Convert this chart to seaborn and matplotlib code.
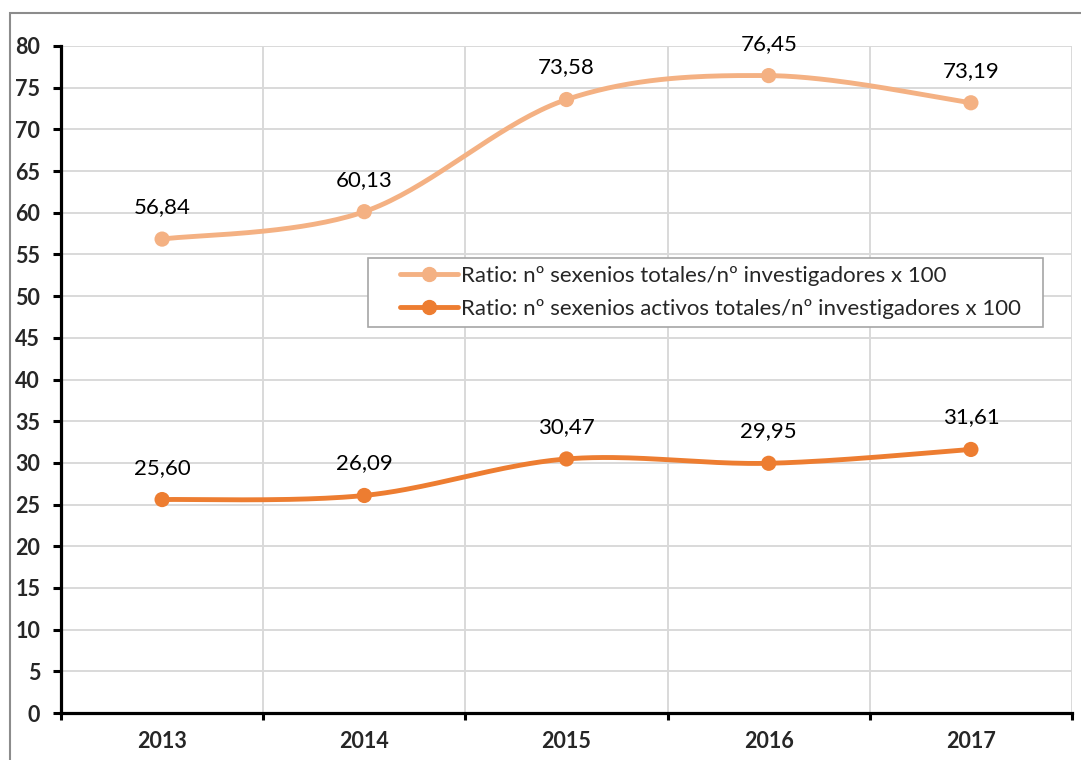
import numpy as np
import pandas as pd
import matplotlib
matplotlib.use("Agg")
import matplotlib.pyplot as plt
import seaborn as sns
from matplotlib.lines import Line2D
from matplotlib.patches import Rectangle
from matplotlib.ticker import FixedLocator

# ---- data ----
years = ["2013", "2014", "2015", "2016", "2017"]
ratio_totales = [56.84, 60.13, 73.58, 76.45, 73.19]
ratio_activos = [25.60, 26.09, 30.47, 29.95, 31.61]
series_names = [
    "Ratio: nº sexenios totales/nº investigadores x 100",
    "Ratio: nº sexenios activos totales/nº investigadores x 100",
]
colors = ["#F4B183", "#ED7D31"]
y_ticks = list(range(0, 81, 5))

sns.set_theme(style="white")
plt.rcParams["font.family"] = ["Lato", "DejaVu Sans"]


def smooth(x, y, n=40):
    P = np.column_stack([x, y]).astype(float)
    Pe = np.vstack([P[0], P, P[-1]])
    out = []
    for i in range(len(P) - 1):
        p0, p1, p2, p3 = Pe[i], Pe[i + 1], Pe[i + 2], Pe[i + 3]
        c1 = p1 + (p2 - p0) / 6
        c2 = p2 - (p3 - p1) / 6
        t = np.linspace(0, 1, n)[:, None]
        seg = (1 - t) ** 3 * p1 + 3 * (1 - t) ** 2 * t * c1 + 3 * (1 - t) * t ** 2 * c2 + t ** 3 * p2
        out.append(seg if i == 0 else seg[1:])
    return np.vstack(out)


fig = plt.figure(figsize=(10.81, 7.60), dpi=100)
ax = fig.add_axes([61 / 1081, 1 - 713 / 760, (1072 - 61) / 1081, (713 - 46) / 760])

xpos = np.arange(len(years))
handles = []
for vals, name, col in zip([ratio_totales, ratio_activos], series_names, colors):
    curve = smooth(xpos, vals)
    df_c = pd.DataFrame({"x": curve[:, 0], "y": curve[:, 1]})
    sns.lineplot(data=df_c, x="x", y="y", sort=False, estimator=None, ax=ax,
                 color=col, linewidth=3.5, zorder=3)
    df_p = pd.DataFrame({"x": xpos, "y": vals})
    sns.scatterplot(data=df_p, x="x", y="y", ax=ax, color=col, s=120,
                    edgecolor="none", zorder=4)
    for xv, yv in zip(xpos, vals):
        ax.annotate(f"{yv:.2f}".replace(".", ","), (xv, yv), xytext=(0, 23),
                    textcoords="offset points", ha="center", va="center",
                    fontsize=16, color="black", zorder=5)
    handles.append(Line2D([0], [0], color=col, linewidth=3.5, marker="o",
                          markersize=10, markeredgecolor=col))

ax.set_xlim(-0.5, len(years) - 0.5)
ax.set_ylim(0, 80)
ax.set_xlabel("")
ax.set_ylabel("")

# x axis: boundary ticks (major) + centered labels (minor)
ax.xaxis.set_major_locator(FixedLocator(np.arange(-0.5, len(years), 1.0)))
ax.xaxis.set_minor_locator(FixedLocator(xpos))
ax.set_xticklabels([], minor=False)
ax.set_xticklabels(years, minor=True, fontsize=15.5, fontweight="bold")
ax.tick_params(axis="x", which="major", direction="out", length=5, width=2.2,
               color="black", bottom=True)
ax.tick_params(axis="x", which="minor", length=0, pad=13, bottom=True)

ax.set_yticks(y_ticks)
ax.set_yticklabels([str(v) for v in y_ticks], fontsize=15.5, fontweight="bold")
ax.tick_params(axis="y", direction="out", length=6, width=2.2, color="black",
               left=True, pad=9)

ax.grid(True, which="major", axis="both", color="#D9D9D9", linewidth=1.4, zorder=0)
ax.set_axisbelow(True)

for s in ["top", "right"]:
    ax.spines[s].set_visible(False)
for s in ["left", "bottom"]:
    ax.spines[s].set_color("black")
    ax.spines[s].set_linewidth(2.3)
    ax.spines[s].set_zorder(6)

# legend frame drawn as a box, legend entries placed inside it
x0 = (368 - 61) / 1011
x1 = (1043 - 61) / 1011
yt = (713 - 258) / 667
yb = (713 - 327) / 667
ax.add_patch(Rectangle((x0, yb), x1 - x0, yt - yb, transform=ax.transAxes,
                       facecolor="white", edgecolor="#A6A6A6", linewidth=1.2,
                       zorder=7))
leg = ax.legend(handles, series_names, loc="center left",
                bbox_to_anchor=((400 - 61) / 1011, (yt + yb) / 2),
                fontsize=16, frameon=False, handlelength=2.6,
                handletextpad=0.15, borderpad=0.0, labelspacing=0.6,
                borderaxespad=0)
leg.set_zorder(8)

# outer chart border
fig.patches.append(Rectangle((10 / 1081, -0.1), 1.2, 1 - 13 / 760 + 0.1,
                             transform=fig.transFigure, fill=False,
                             edgecolor="#8C8C8C", linewidth=1.5, zorder=0))

fig.savefig("out.png", dpi=100)
